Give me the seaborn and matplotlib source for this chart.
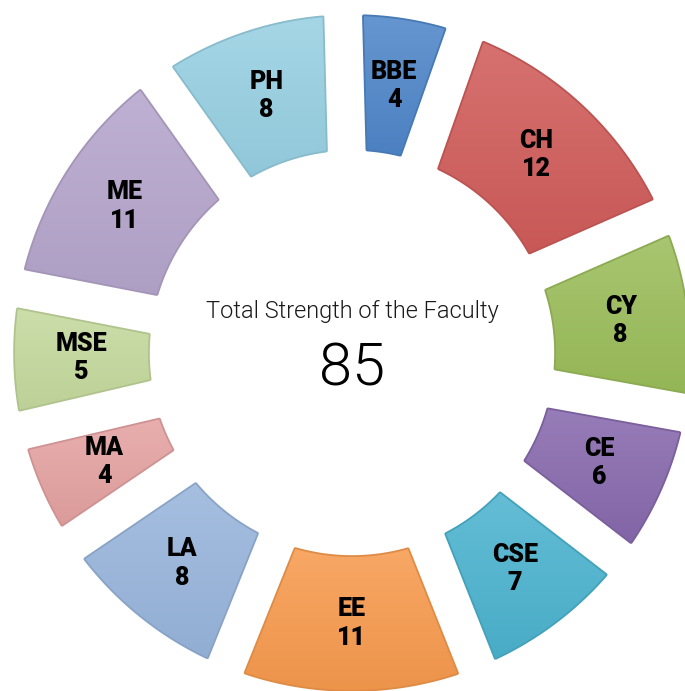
import numpy as np
import matplotlib
matplotlib.use("Agg")
import matplotlib.pyplot as plt
import seaborn as sns

# ---- data ----
departments = ["BBE", "CH", "CY", "CE", "CSE", "EE", "LA", "MA", "MSE", "ME", "PH"]
faculty = [4, 12, 8, 6, 7, 11, 8, 4, 5, 11, 8]
total_faculty = 85
colours = ["#4f86c9", "#d05c5a", "#9bbd5a", "#8769ad", "#4cb3cf", "#f79a4e",
           "#98b5dc", "#e4a2a1", "#c4d99d", "#b5a5cc", "#97d0e2"]

sns.set_theme(style="white")

W, H = 685, 691
fig = plt.figure(figsize=(W / 100, H / 100), dpi=100)
fig.patch.set_facecolor("white")

# polar axes laid out so that one data unit of radius is one pixel
cx, cy, R = 352, 353, 360
ax = fig.add_axes([(cx - R) / W, (H - cy - R) / H, 2 * R / W, 2 * R / H], projection="polar")
ax.set_ylim(0, R)
ax.set_axis_off()

# overlay axes in pixel coords for the gradient shading + labels
gax = fig.add_axes([0, 0, 1, 1], zorder=ax.get_zorder() + 1)
gax.set_xlim(0, W)
gax.set_ylim(0, H)
gax.set_axis_off()
gax.patch.set_alpha(0)

r_in, r_out = 204, 337
gap_deg = 8.0                       # angular gap at mid radius
r_mid = (r_in + r_out) / 2
half_gap = r_mid * np.sin(np.radians(gap_deg / 2)) + 1.8
per_unit = (360 - len(faculty) * gap_deg) / sum(faculty)

palette = sns.color_palette(colours)
start = 91.5
for name, val, col in zip(departments, faculty, palette):
    span = per_unit * val + gap_deg
    hi, lo = np.radians(start), np.radians(start - span)
    start -= span

    rs = np.linspace(r_in, r_out, 40)
    edge_hi = hi - np.arcsin(half_gap / rs)
    edge_lo = lo + np.arcsin(half_gap / rs)
    th = np.concatenate([edge_hi,
                         np.linspace(edge_hi[-1], edge_lo[-1], 80),
                         edge_lo[::-1],
                         np.linspace(edge_lo[0], edge_hi[0], 60)])
    rr = np.concatenate([rs, np.full(80, r_out), rs[::-1], np.full(60, r_in)])

    dark = tuple(np.array(col) * 0.9)
    patch = ax.fill(th, rr, facecolor=col, edgecolor=dark, linewidth=2.6,
                    joinstyle="round")[0]

    # vertical gradient: lighter on top, a touch darker at the bottom
    pix = ax.transData.transform(np.column_stack([th, rr]))
    y0, y1 = pix[:, 1].min(), pix[:, 1].max()
    x0, x1 = pix[:, 0].min(), pix[:, 0].max()
    base = np.array(col)
    top = base + (1 - base) * 0.13
    bottom = base * 0.96
    t = np.linspace(0, 1, 64)[:, None]
    grad = top * (1 - t) + bottom * t
    img = gax.imshow(grad[:, None, :], extent=(x0, x1, y0, y1), origin="upper",
                     aspect="auto", interpolation="bilinear")
    img.set_clip_path(patch)

    mid = (hi + lo) / 2
    gax.text(mid, r_mid, f"{name}\n{val}", transform=ax.transData,
             ha="center", va="center", fontsize=18, fontweight="black",
             family="Roboto", color="black", linespacing=1.22, zorder=5)

gax.text(0.5, 0.557, "Total Strength of the Faculty", transform=ax.transAxes,
         ha="center", va="center", fontsize=17, family="Roboto", fontweight=300,
         color="#1a1a1a")
gax.text(0.5, 0.478, str(total_faculty), transform=ax.transAxes,
         ha="center", va="center", fontsize=43, family="Roboto", fontweight=300,
         color="black")

fig.savefig("out.png", dpi=100, facecolor="white")
